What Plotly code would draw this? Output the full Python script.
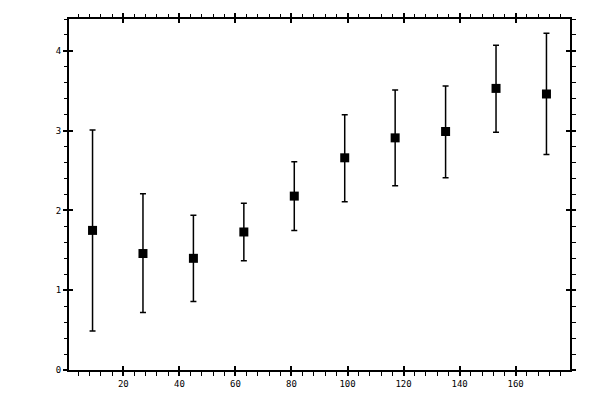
import plotly.graph_objects as go

# valores
x_vals = [9, 27, 45, 63, 81, 99, 117, 135, 153, 171]
y_vals = [1.75, 1.46, 1.40, 1.73, 2.18, 2.66, 2.91, 2.99, 3.53, 3.46]
y_top = [3.01, 2.21, 1.94, 2.09, 2.61, 3.20, 3.51, 3.56, 4.07, 4.22]
y_bot = [0.49, 0.72, 0.86, 1.37, 1.75, 2.11, 2.31, 2.41, 2.98, 2.70]

err_plus = [t - y for t, y in zip(y_top, y_vals)]
err_minus = [y - b for y, b in zip(y_vals, y_bot)]

x_range = [0.6, 179.4]
y_range = [0, 4.4]

fig = go.Figure()

fig.add_trace(go.Scatter(
    x=x_vals, y=y_vals,
    mode='markers',
    marker=dict(symbol='square', size=9, color='black'),
    error_y=dict(type='data', symmetric=False, array=err_plus, arrayminus=err_minus,
                 color='black', thickness=1.5, width=3),
    showlegend=False,
    hoverinfo='skip'
))

fuente = dict(family="DejaVu Sans Mono", size=9, color="black")

# la pagina tiene un margen de 8px en el body, se compensa aqui
fig.update_layout(
    width=600, height=400,
    plot_bgcolor='white', paper_bgcolor='white',
    margin=dict(l=61, r=38, t=11, b=38),
    font=fuente,
    xaxis=dict(range=x_range, tick0=0, dtick=20, ticks='outside', ticklen=4, tickwidth=1.5,
               tickcolor='black', showline=True, linecolor='black', linewidth=2, mirror='ticks',
               showgrid=False, zeroline=False, tickfont=fuente, automargin=False,
               minor=dict(dtick=4, ticks='outside', ticklen=3.5, tickwidth=1, tickcolor='black')),
    yaxis=dict(range=y_range, tick0=0, dtick=1, ticks='outside', ticklen=4, tickwidth=1.5,
               tickcolor='black', showline=True, linecolor='black', linewidth=2, mirror='ticks',
               showgrid=False, zeroline=False, tickfont=fuente, automargin=False,
               minor=dict(dtick=0.2, ticks='outside', ticklen=3.5, tickwidth=1, tickcolor='black')),
    # ejes superpuestos para la parte interior de los ticks mayores
    xaxis2=dict(range=x_range, overlaying='x', side='bottom', anchor='y', tick0=0, dtick=20,
                ticks='inside', ticklen=4, tickwidth=1.5, tickcolor='black', mirror='ticks',
                showline=False, showticklabels=False, showgrid=False, zeroline=False,
                automargin=False),
    yaxis2=dict(range=y_range, overlaying='y', side='left', anchor='x', tick0=0, dtick=1,
                ticks='inside', ticklen=4, tickwidth=1.5, tickcolor='black', mirror='ticks',
                showline=False, showticklabels=False, showgrid=False, zeroline=False,
                automargin=False),
)

fig.add_trace(go.Scatter(x=[], y=[], xaxis='x2', yaxis='y2', showlegend=False, hoverinfo='skip'))

fig.write_html("out.html")
